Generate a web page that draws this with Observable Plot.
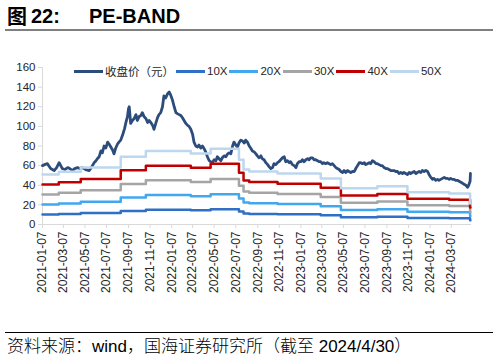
<!DOCTYPE html>
<html><head><meta charset="utf-8">
<script src="https://cdn.jsdelivr.net/npm/d3@7"></script>
<script src="https://cdn.jsdelivr.net/npm/@observablehq/plot@0.6"></script>
<style>
html,body{margin:0;padding:0;background:#fff;}
#wrap{position:relative;width:498px;height:360px;overflow:hidden;background:#fff;font-family:"Liberation Sans",Arial,"Noto Sans CJK SC",sans-serif;}
.t{position:absolute;top:6px;font-weight:bold;font-size:20px;line-height:20px;color:#000;white-space:nowrap;}
#legend{position:absolute;left:74px;top:64px;height:14px;display:flex;align-items:center;font-size:11.5px;color:#262626;white-space:nowrap;}
#legend .it{display:flex;align-items:center;margin-right:2px;}
#legend .sw{width:29px;height:3px;margin-right:2px;}
#chart{position:absolute;left:0;top:40px;}
#cap{position:absolute;left:7px;top:338px;font-size:17px;line-height:17px;color:#000;white-space:nowrap;font-family:"Liberation Sans",Arial,"Noto Sans CJK SC",sans-serif;font-weight:300;}
</style></head>
<body>
<div id="wrap">
  <span class="t" style="left:7px;font-family:'Noto Sans CJK SC';">图</span>
  <span class="t" style="left:31px;">22:</span>
  <span class="t" style="left:89px;">PE-BAND</span>
  <div style="position:absolute;left:5px;top:29px;width:488px;height:2px;background:#7f7f7f;"></div>
  <div id="chart"></div>
  <div id="legend"></div>
  <div style="position:absolute;left:5px;top:332px;width:488px;height:1px;background:#000;"></div>
  <div id="cap">资料来源：wind，国海证券研究所（截至 2024/4/30）</div>
</div>
<script>
// ---- data ----
const priceDates = [
"2021-01-07","2021-01-13","2021-01-21","2021-01-30","2021-02-09","2021-02-16","2021-02-23",
"2021-03-04","2021-03-11","2021-03-19","2021-03-25","2021-04-02","2021-04-08","2021-04-16","2021-04-22","2021-04-30",
"2021-05-09","2021-05-19","2021-05-23","2021-05-28","2021-06-02","2021-06-07","2021-06-11","2021-06-16","2021-06-21","2021-06-25","2021-06-30",
"2021-07-05","2021-07-10","2021-07-14","2021-07-19","2021-07-24","2021-07-28","2021-08-02","2021-08-07","2021-08-11","2021-08-16","2021-08-22","2021-08-27","2021-08-30",
"2021-09-04","2021-09-07","2021-09-09","2021-09-11","2021-09-13","2021-09-18","2021-09-23","2021-09-28",
"2021-10-02","2021-10-07","2021-10-12","2021-10-16","2021-10-21","2021-10-26","2021-10-31",
"2021-11-04","2021-11-09","2021-11-14","2021-11-18","2021-11-23","2021-11-28",
"2021-12-02","2021-12-07","2021-12-12","2021-12-16","2021-12-21","2021-12-26","2021-12-31",
"2022-01-04","2022-01-09","2022-01-14","2022-01-19","2022-01-23","2022-01-28",
"2022-02-02","2022-02-06","2022-02-11","2022-02-16","2022-02-21","2022-02-25",
"2022-03-02","2022-03-07","2022-03-11","2022-03-16","2022-03-21","2022-03-25","2022-03-30",
"2022-04-04","2022-04-09","2022-04-13","2022-04-18","2022-04-23","2022-04-27",
"2022-05-02","2022-05-07","2022-05-12","2022-05-16","2022-05-21","2022-05-26","2022-05-30",
"2022-06-04","2022-06-09","2022-06-14","2022-06-18","2022-06-23","2022-06-28",
"2022-07-02","2022-07-07","2022-07-12","2022-07-16","2022-07-21","2022-07-26","2022-07-31",
"2022-08-04","2022-08-09","2022-08-14","2022-08-18","2022-08-23","2022-08-28",
"2022-09-02","2022-09-06","2022-09-11","2022-09-16","2022-09-20","2022-09-25","2022-09-30",
"2022-10-05","2022-10-09","2022-10-14","2022-10-19","2022-10-23","2022-10-28",
"2022-11-02","2022-11-06","2022-11-11","2022-11-16","2022-11-21","2022-11-25","2022-11-30",
"2022-12-05","2022-12-09","2022-12-14","2022-12-19","2022-12-24","2022-12-28",
"2023-01-02","2023-01-07","2023-01-11","2023-01-16","2023-01-21","2023-01-26","2023-01-30",
"2023-02-04","2023-02-09","2023-02-13","2023-02-18","2023-02-23","2023-02-27",
"2023-03-04","2023-03-09","2023-03-13","2023-03-18","2023-03-23","2023-03-28",
"2023-04-01","2023-04-06","2023-04-11","2023-04-16","2023-04-20","2023-04-25","2023-04-30",
"2023-05-05","2023-05-09","2023-05-14","2023-05-19","2023-05-23","2023-05-28",
"2023-06-02","2023-06-07","2023-06-11","2023-06-16","2023-06-21","2023-06-25","2023-06-30",
"2023-07-05","2023-07-09","2023-07-14","2023-07-19","2023-07-23","2023-07-28",
"2023-08-02","2023-08-07","2023-08-11","2023-08-16","2023-08-21","2023-08-25","2023-08-30",
"2023-09-04","2023-09-09","2023-09-13","2023-09-18","2023-09-23","2023-09-27",
"2023-10-02","2023-10-07","2023-10-11","2023-10-16","2023-10-21","2023-10-25","2023-10-30",
"2023-11-04","2023-11-09","2023-11-13","2023-11-18","2023-11-23","2023-11-28",
"2023-12-02","2023-12-07","2023-12-12","2023-12-16","2023-12-21","2023-12-26","2023-12-31",
"2024-01-04","2024-01-09","2024-01-14","2024-01-18","2024-01-23","2024-01-28",
"2024-02-01","2024-02-06","2024-02-11","2024-02-16","2024-02-20","2024-02-25",
"2024-03-01","2024-03-05","2024-03-10","2024-03-15","2024-03-19","2024-03-24","2024-03-29",
"2024-04-03","2024-04-08","2024-04-12","2024-04-17","2024-04-22","2024-04-25","2024-04-29","2024-04-30"
];
const priceValues = [
60,61,62,57,55,58,63,
57,56,58,57,55,57,58,57,58,
56,55,57,60,63,65,67,69,75,73,80,
78,84,82,79,76,72,78,82,84,86,92,98,103,
110,118,120,112,103,106,108,112,
106,110,111,114,110,108,104,
106,104,101,97,103,109,
112,114,120,131,129,133,135,
132,127,120,114,113,112,
111,109,106,103,101,100,
97,92,84,80,79,81,78,
80,77,74,69,65,64,
63,66,65,69,67,65,68,
70,69,72,73,72,80,
84,81,79,83,86,85,83,
86,84,80,78,75,74,
72,70,68,70,67,66,63,
61,59,57,58,62,61,
63,64,66,68,69,64,65,
63,64,61,60,58,62,
64,64,66,64,66,67,66,
68,68,66,66,65,64,
64,62,63,62,63,62,
61,62,60,58,57,56,54,
53,55,53,55,54,53,
54,54,57,60,63,63,62,
63,61,62,63,62,65,
64,62,62,61,60,60,58,
57,57,56,55,55,55,
54,54,52,53,52,53,52,
51,53,52,53,54,52,
53,54,53,55,54,55,54,
51,48,46,47,45,46,
45,46,47,48,47,47,
46,47,46,46,45,45,44,
43,42,41,40,38,40,44,52
];
// PE band step dates (value holds from date until next date)
const stepDates = ["2021-01-07","2021-02-22","2021-04-25","2021-08-16","2021-10-26","2022-03-02","2022-04-27",
  "2022-07-16","2022-07-29","2022-08-14","2022-11-02","2023-03-04","2023-04-30","2023-08-11","2023-11-04",
  "2024-03-01","2024-04-29","2024-04-30"];
const pe10 = [10.2,10.8,11.6,13.8,15.0,14.5,15.5,13.2,11.2,10.8,10.4,9.4,7.4,7.8,6.6,6.3,4.3,4.3];
const pe20 = [20.4,21.5,23.2,27.6,30.0,28.9,30.9,26.4,22.4,21.6,20.8,18.7,14.8,15.6,13.1,12.6,8.6,8.6];
const pe30 = [30.6,32.3,34.8,41.4,45.0,43.4,46.4,39.6,33.6,32.4,31.2,28.1,22.2,23.4,19.7,18.9,12.9,12.9];
const pe40 = [40.8,43.0,46.4,55.2,60.0,57.8,61.8,52.8,44.8,43.2,41.6,37.4,29.6,31.2,26.2,25.2,17.2,17.2];
const pe50 = [51.0,53.8,58.0,69.0,75.0,72.3,77.3,66.0,56.0,54.0,52.0,46.8,37.0,39.0,32.8,31.5,21.5,21.5];
const seriesNames = ["收盘价（元）","10X","20X","30X","40X","50X"];
const seriesColors = ["#2C4C7C","#2F6FC6","#41A8F0","#A5A5A5","#C00000","#BDD7EE"];
const yTicks = [0,20,40,60,80,100,120,140,160];
const xTickLabels = ["2021-01-07","2021-03-07","2021-05-07","2021-07-07","2021-09-07","2021-11-07",
  "2022-01-07","2022-03-07","2022-05-07","2022-07-07","2022-09-07","2022-11-07",
  "2023-01-07","2023-03-07","2023-05-07","2023-07-07","2023-09-07","2023-11-07",
  "2024-01-07","2024-03-07"];

// ---- build ----
const parse = d3.utcParse("%Y-%m-%d");
const price = priceDates.map((d,i)=>({date:parse(d), value:priceValues[i]}));
const bandValues = [pe10,pe20,pe30,pe40,pe50];
const bandData = bandValues.flatMap((vals,k)=>stepDates.map((d,i)=>({date:parse(d), value:vals[i], name:seriesNames[k+1]})));
const axisGray = "#d9d9d9";

const chart = Plot.plot({
  width: 498, height: 290,
  marginLeft: 42, marginRight: 27, marginTop: 27, marginBottom: 106,
  style: {fontFamily: "'Liberation Sans', Arial, sans-serif", background: "transparent", overflow: "visible", color: "#262626"},
  x: {type: "utc", domain: [parse("2021-01-07"), parse("2024-05-03")]},
  y: {domain: [0, 160]},
  color: {domain: seriesNames.slice(1), range: seriesColors.slice(1)},
  marks: [
    Plot.ruleX([parse("2021-01-07")], {stroke: axisGray, strokeWidth: 1}),
    Plot.ruleY([0], {stroke: axisGray, strokeWidth: 1}),
    Plot.axisY({ticks: yTicks, tickSize: 4, tickPadding: 3, stroke: axisGray, label: null, fontSize: 11.5, fill: "#262626"}),
    Plot.axisX({ticks: xTickLabels.map(parse), tickFormat: d3.utcFormat("%Y-%m-%d"), tickRotate: -90,
      tickSize: 4, tickPadding: 3, stroke: axisGray, label: null, fontSize: 12, fill: "#262626"}),
    Plot.line(price, {x: "date", y: "value", stroke: seriesColors[0], strokeWidth: 2.8, strokeLinejoin: "round"}),
    Plot.line(bandData, {x: "date", y: "value", z: "name", stroke: "name", curve: "step-after", strokeWidth: 2.5})
  ]
});
document.getElementById("chart").appendChild(chart);

// legend
const lg = document.getElementById("legend");
seriesNames.forEach((n,i)=>{
  const it = document.createElement("div"); it.className = "it";
  const sw = document.createElement("div"); sw.className = "sw"; sw.style.background = seriesColors[i];
  const tx = document.createElement("span"); tx.textContent = n;
  it.appendChild(sw); it.appendChild(tx); lg.appendChild(it);
});
</script>
</body></html>
